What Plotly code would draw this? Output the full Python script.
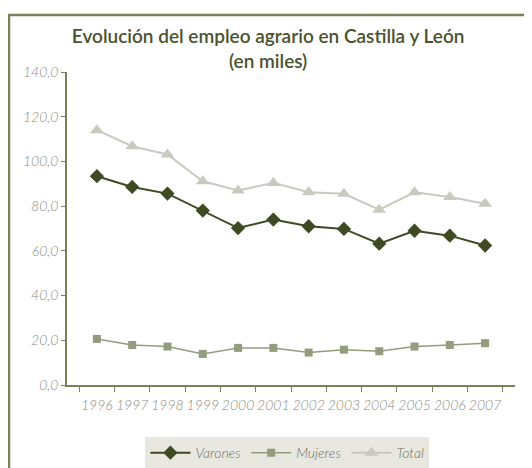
import plotly.graph_objects as go

years = ["1996", "1997", "1998", "1999", "2000", "2001", "2002", "2003", "2004", "2005", "2006", "2007"]
varones = [93.4, 88.6, 85.6, 78.0, 70.2, 74.0, 71.0, 69.8, 63.2, 69.0, 66.8, 62.4]
mujeres = [20.6, 17.9, 17.2, 13.9, 16.6, 16.6, 14.5, 15.8, 15.1, 17.2, 17.9, 18.7]
total = [114.0, 106.8, 103.1, 91.1, 87.0, 90.4, 86.2, 85.5, 78.4, 86.2, 84.1, 81.1]
y_ticks = [0, 20, 40, 60, 80, 100, 120, 140]

axis_col = "#7d7f5a"
tick_font = dict(family="Lato", size=14, color="#8c8c80", style="italic", weight=300)

fig = go.Figure()
fig.add_trace(go.Scatter(x=years, y=varones, name="Varones", mode="lines+markers",
                         line=dict(color="#3f4a22", width=2),
                         marker=dict(symbol="diamond", size=11, color="#3f4a22")))
fig.add_trace(go.Scatter(x=years, y=mujeres, name="Mujeres", mode="lines+markers",
                         line=dict(color="#949c7e", width=1.5),
                         marker=dict(symbol="square", size=8, color="#949c7e")))
fig.add_trace(go.Scatter(x=years, y=total, name="Total", mode="lines+markers",
                         line=dict(color="#c9cabd", width=2),
                         marker=dict(symbol="triangle-up", size=12, color="#c9cabd")))

fig.update_layout(
    width=532, height=468,
    margin=dict(l=59, r=25, t=64, b=91),
    paper_bgcolor="white", plot_bgcolor="white",
    separators=",.",
    title=dict(text="Evolución del empleo agrario en Castilla y León<br>(en miles)",
               x=0.489, xanchor="center", y=0.925, yanchor="top",
               font=dict(family="Lato", size=19, color="#4a5230", weight=600)),
    showlegend=True,
    legend=dict(orientation="h", x=0.492, xanchor="center",
                yref="container", y=0.049, yanchor="middle",
                bgcolor="#e8e8e1", borderwidth=0,
                font=dict(family="Lato", size=14, color="#6f6f62", style="italic", weight=300),
                itemwidth=40, tracegroupgap=0),
    shapes=[dict(type="rect", xref="paper", yref="paper",
                 x0=-0.1295, x1=1.2, y0=-0.5, y1=1.182,
                 line=dict(color=axis_col, width=2.5), fillcolor="rgba(0,0,0,0)", layer="below")],
)
fig.update_xaxes(showline=True, linecolor=axis_col, linewidth=1.5, ticks="outside",
                 tickcolor=axis_col, ticklen=5, tickson="boundaries", showgrid=False,
                 tickfont=tick_font, zeroline=False, tickangle=0, automargin=False,
                 ticklabelstandoff=6)
fig.update_yaxes(range=[0, 140], tickvals=y_ticks, tickformat=".1f", showline=True,
                 linecolor=axis_col, linewidth=1.5, ticks="outside", tickcolor=axis_col,
                 ticklen=4, showgrid=False, tickfont=tick_font, zeroline=False, automargin=False)

fig.write_html("out.html")
